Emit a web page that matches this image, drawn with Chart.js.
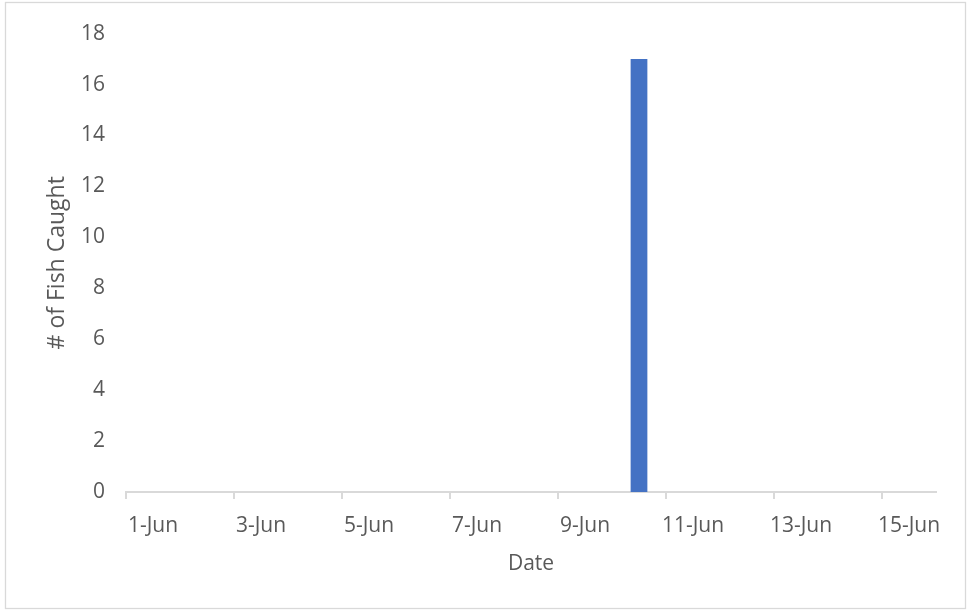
<!DOCTYPE html>
<html>
<head>
<meta charset="utf-8">
<script src="https://cdn.jsdelivr.net/npm/chart.js@4.4.0/dist/chart.umd.min.js"></script>
<style>
  html, body { margin: 0; padding: 0; background: #fff; }
  #wrap { position: relative; width: 969px; height: 610px; }
</style>
</head>
<body>
<div id="wrap"><canvas id="bar" width="969" height="610"></canvas></div>
<script>
// data
let dates = ['1-Jun', '2-Jun', '3-Jun', '4-Jun', '5-Jun', '6-Jun', '7-Jun', '8-Jun',
             '9-Jun', '10-Jun', '11-Jun', '12-Jun', '13-Jun', '14-Jun', '15-Jun'];
let fishCaught = [0, 0, 0, 0, 0, 0, 0, 0, 0, 17, 0, 0, 0, 0, 0];
let yTicks = [0, 2, 4, 6, 8, 10, 12, 14, 16, 18];

const textColor = '#595959';
const lineColor = '#d9d9d9';
const fontName = "'Open Sans', 'Noto Sans', sans-serif";

// light frame round the chart, like the Excel chart border
const framePlugin = {
    id: 'frame',
    beforeDraw(c) {
        const ctx = c.ctx;
        ctx.save();
        ctx.fillStyle = '#ffffff';
        ctx.fillRect(0, 0, c.width, c.height);
        ctx.strokeStyle = lineColor;
        ctx.lineWidth = 1.3;
        ctx.strokeRect(5.5, 2.5, 960, 606);
        ctx.restore();
    }
};

var chart = document.getElementById('bar').getContext('2d');
chart = new Chart(chart, {
    type: 'bar',
    data: {
        labels: dates,
        datasets: [{
            label: '# of Fish Caught',
            data: fishCaught,
            backgroundColor: '#4472C4',
            barPercentage: 0.31,
            categoryPercentage: 1
        }]
    },
    options: {
        responsive: false,
        animation: false,
        layout: {
            padding: { left: 44, right: 33, top: 32, bottom: 33 }
        },
        plugins: {
            legend: { display: false },
            tooltip: { enabled: false }
        },
        scales: {
            x: {
                afterFit: function (axis) { axis.height = 85; },
                grid: {
                    offset: true,
                    drawOnChartArea: false,
                    drawTicks: true,
                    tickLength: 7,
                    lineWidth: 2,
                    color: function (ctx) {
                        if (ctx.index === undefined || ctx.index % 2 === 1) return 'rgba(0,0,0,0)';
                        return lineColor;
                    }
                },
                border: { display: true, color: lineColor, width: 2 },
                ticks: {
                    autoSkip: false,
                    maxRotation: 0,
                    minRotation: 0,
                    padding: 14,
                    color: textColor,
                    font: { family: fontName, size: 21 },
                    callback: function (value, index) {
                        return index % 2 === 0 ? dates[index] : '';
                    }
                },
                title: {
                    display: true,
                    text: 'Date',
                    color: textColor,
                    font: { family: fontName, size: 21 },
                    padding: { top: 15, bottom: 0 }
                }
            },
            y: {
                min: yTicks[0],
                max: yTicks[yTicks.length - 1],
                afterFit: function (axis) { axis.width = 82; },
                grid: { display: false, drawTicks: false },
                border: { display: false },
                afterBuildTicks: function (axis) {
                    axis.ticks = yTicks.map(v => ({ value: v }));
                },
                ticks: {
                    padding: 21,
                    color: textColor,
                    font: { family: fontName, size: 21 }
                },
                title: {
                    display: true,
                    text: '# of Fish Caught',
                    color: textColor,
                    font: { family: fontName, size: 23 },
                    padding: { top: 0, bottom: 11 }
                }
            }
        }
    },
    plugins: [framePlugin]
});
</script>
</body>
</html>
